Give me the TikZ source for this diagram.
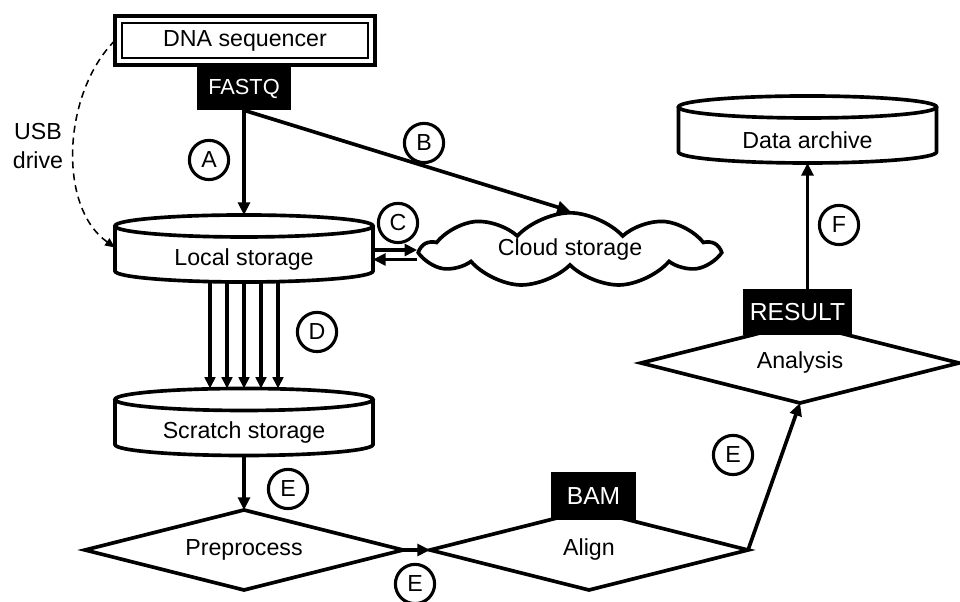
\documentclass[tikz,border=0pt]{standalone}
\usepackage{fontspec}
\setmainfont{Liberation Sans}
\usepackage{tikz}
\usetikzlibrary{shapes.geometric,shapes.symbols}
\usetikzlibrary{arrows.meta}
\usetikzlibrary{calc}

\newcommand{\diskrim}[1]{%
	\draw[line width=2.6pt] ([yshift=0.275cm]#1.north west) -- ([yshift=0.275cm]#1.south west)
		arc[start angle=180, end angle=360, x radius=3.225cm, y radius=0.275cm]
		-- ([yshift=0.275cm]#1.north east);
	\draw[line width=2.6pt] ([yshift=0.275cm]#1.north) ellipse [x radius=3.225cm, y radius=0.275cm];
	\coordinate (#1-top) at ([yshift=0.55cm]#1.north);
}

\begin{document}
\begin{tikzpicture}[x=0.025cm, y=0.025cm,
	every node/.style={font=\fontsize{16.5}{20}\selectfont},
	store/.style={minimum width=6.45cm, minimum height=1.125cm, inner sep=0pt, outer sep=0pt},
	proc/.style={diamond, draw, line width=2.6pt, aspect=4, minimum width=7.95cm, minimum height=2cm, inner sep=0pt, outer sep=0pt},
	dtype/.style={fill=black, text=white, inner sep=0pt, minimum height=1.15cm, font=\fontsize{17.5}{20}\selectfont},
	badge/.style={circle, draw, line width=2.2pt, minimum size=0.98cm, inner sep=0pt},
	flow/.style={-{Triangle[length=9pt,width=8.5pt]}, line width=2.6pt},
	]
	\useasboundingbox (0,0) rectangle (960,602);

	\node[draw, line width=3pt, minimum width=6.5cm, minimum height=1.225cm, inner sep=0pt, outer sep=0pt] (seq) at (245,561.5) {DNA sequencer};
	\draw[line width=1.2pt] ([shift={(0.17cm,-0.17cm)}]seq.north west) rectangle ([shift={(-0.17cm,0.17cm)}]seq.south east);
	\node[dtype, minimum width=2.325cm, minimum height=1.075cm, font=\fontsize{15.5}{20}\selectfont] (fastq) at (244,513.5) {FASTQ};

	\node[store] (loc) at (244,342.5) {Local storage};
	\diskrim{loc}
	\node[store] (scr) at (244,169) {Scratch storage};
	\diskrim{scr}
	\node[store] (arc) at (807.5,461.5) {Data archive};
	\diskrim{arc}

	\node[cloud, draw, line width=2.6pt, cloud puffs=9, cloud puff arc=95, aspect=4.4,
		minimum width=7.35cm, minimum height=1.65cm, inner sep=0pt] (cloud) at (570,352) {Cloud storage};

	\node[proc] (pre) at (244,52) {Preprocess};
	\node[proc] (aln) at (589,52) {Align};
	\node[proc] (ana) at (800,239) {Analysis};
	\node[dtype, minimum width=2.125cm, minimum height=1.2cm] (bam) at (593.5,106) {BAM};
	\node[dtype, minimum width=2.725cm] (res) at (797.5,290) {RESULT};

	\node[align=center] (usb) at (38,456) {USB\\drive};

	\node[badge] (bA) at (209,442) {A};
	\node[badge] (bB) at (424,459) {B};
	\node[badge] (bC) at (398,379) {C};
	\node[badge] (bD) at (317,270) {D};
	\node[badge] (bE1) at (288,113) {E};
	\node[badge] (bE2) at (415,18) {E};
	\node[badge] (bE3) at (733,147) {E};
	\node[badge] (bF) at (839,377) {F};

	\draw[dashed, dash pattern=on 5pt off 3.5pt, line width=1.1pt, -{Triangle[length=7pt,width=6pt]}]
		(seq.west) .. controls +(-52,-52) and +(-58,41) .. ([yshift=0.3cm]loc.west);
	\path[flow]
		(fastq.south) edge (fastq.south |- loc-top)
		(fastq.south) edge (cloud.north)
		(loc.east |- cloud.west) edge (cloud.west)
		(cloud.west |- loc.east) edge (loc.east);
	\foreach \dx in {-34,-17,0,17,34}
		\draw[flow, -{Triangle[length=8pt,width=7.5pt]}] ([xshift=\dx*0.025cm]loc.south) -- ([xshift=\dx*0.025cm]loc.south |- scr-top);
	\path[flow]
		(scr.south) edge (pre.north)
		(pre.east) edge (aln.west)
		(aln.east) edge (ana.south)
		(res.north -| arc.south) edge (arc.south);
\end{tikzpicture}
\end{document}
